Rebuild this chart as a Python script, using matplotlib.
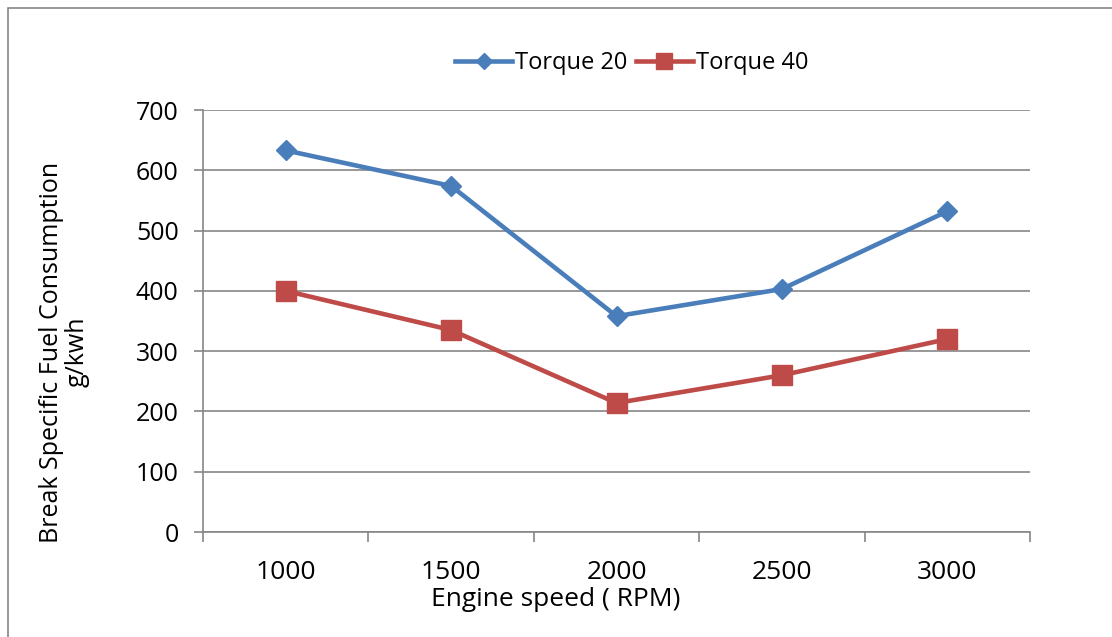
import matplotlib
matplotlib.use("Agg")
import matplotlib.pyplot as plt
from matplotlib.patches import Rectangle

plt.rcParams['font.family'] = ['Open Sans', 'DejaVu Sans']

# data
speeds = ["1000", "1500", "2000", "2500", "3000"]
torque20 = [633, 574, 358, 403, 532]
torque40 = [400, 335, 214, 260, 320]

blue = "#4a7ebb"
red = "#be4b48"
grey = "#868686"

W, H = 1112, 637
fig = plt.figure(figsize=(W / 100, H / 100), dpi=100)
ax = fig.add_axes([203/W, 1 - 532/H, (1030 - 203)/W, (532 - 110)/H])

# outer chart border (only top/left visible in the crop)
fig.patches.append(Rectangle((8/W, -0.1), 1.2, 1 - 8/H + 0.1, transform=fig.transFigure,
                             fill=False, edgecolor=grey, lw=1.2))

x = range(len(speeds))
ax.plot(x, torque20, color=blue, lw=3.3, marker="D", ms=10, label="Torque 20", zorder=3)
ax.plot(x, torque40, color=red, lw=3.3, marker="s", ms=14, label="Torque 40", zorder=3)

ax.set_xlim(-0.5, len(speeds) - 0.5)
ax.set_ylim(0, 700)
ax.set_yticks(range(0, 701, 100))
ax.yaxis.grid(True, color=grey, lw=1.2)
ax.set_axisbelow(True)

ax.set_xticks(list(x))
ax.set_xticklabels(speeds)
ax.set_xticks([i - 0.5 for i in range(len(speeds) + 1)], minor=True)
ax.tick_params(axis="x", which="major", length=0, pad=20, labelsize=19)
ax.tick_params(axis="x", which="minor", length=7, color=grey, width=1.2)
ax.tick_params(axis="y", length=6.5, color=grey, width=1.2, labelsize=18, pad=11)

for s in ["top", "right"]:
    ax.spines[s].set_visible(False)
for s in ["left", "bottom"]:
    ax.spines[s].set_color(grey)
    ax.spines[s].set_linewidth(1.2)

ax.set_xlabel("Engine speed ( RPM)", fontsize=19)
ax.xaxis.set_label_coords((556 - 203) / 827, (532 - 587) / 422)
ax.set_ylabel("Break Specific Fuel Consumption\ng/kwh", fontsize=18, linespacing=1.05)
ax.yaxis.set_label_coords((90 - 203) / 827, (532 - 352) / 422)

ax.legend(loc="center", bbox_to_anchor=(632/W, (H - 63) / H), bbox_transform=fig.transFigure,
          ncol=2, frameon=False, fontsize=17, handlelength=2.4, handletextpad=0.15,
          columnspacing=0.35, markerscale=0.85, borderpad=0)

fig.savefig("out.png", dpi=100)
